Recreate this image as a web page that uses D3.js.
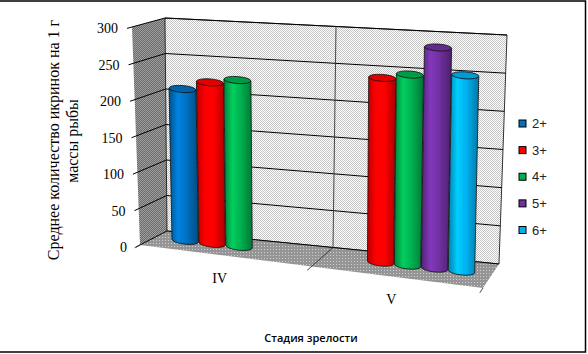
<!DOCTYPE html>
<html>
<head>
<meta charset="utf-8">
<script src="https://cdn.jsdelivr.net/npm/d3@7"></script>
<style>
  body { margin: 0; background: #fff; }
  svg { display: block; }
</style>
</head>
<body>
<div id="chart"></div>
<script>
// chart values
var categories = ["IV", "V"];
var series = ["2+", "3+", "4+", "5+", "6+"];
var valuesIV = [210, 222, 228, null, null];
var valuesV = [null, 245, 252, 290, 256];
var yTicks = [0, 50, 100, 150, 200, 250, 300];

var colors = ["#0070C0", "#FF0000", "#00B050", "#7030A0", "#00B0F0"];

var svgWidth = 588;
var svgHeight = 354;

var svg = d3.select("#chart")
  .append("svg")
  .attr("width", svgWidth)
  .attr("height", svgHeight);

// corners of the 3d box on screen (back / front, value 0 / value max)
var box = {
  back:  { b0: [167, 231], b1: [499, 264], t0: [165, 18], t1: [507, 35] },
  front: { b0: [140, 245], b1: [483, 288], t0: [132, 27], t1: [485, 54] }
};

function lerp(a, b, t) { return [a[0] + (b[0] - a[0]) * t, a[1] + (b[1] - a[1]) * t]; }

function plane(p, u, t) {
  var bottom = lerp(p.b0, p.b1, u);
  var top = lerp(p.t0, p.t1, u);
  return lerp(bottom, top, t);
}

// u: along category axis 0..1, t: value 0..1, w: depth 0 (back) .. 1 (front)
function proj(u, t, w) {
  return lerp(plane(box.back, u, t), plane(box.front, u, t), w);
}

var xScale = d3.scaleBand().domain(categories).range([0, 1]);
var sScale = d3.scaleBand().domain(series).range([0, xScale.bandwidth()]).paddingOuter(0.625);
var yScale = d3.scaleLinear().domain([0, 300]).range([0, 1]);

var line = d3.line();

// patterns to imitate the dithered fills
var defs = svg.append("defs");

function checker(id, c1, c2) {
  var p = defs.append("pattern").attr("id", id)
    .attr("patternUnits", "userSpaceOnUse").attr("width", 2).attr("height", 2);
  p.append("rect").attr("width", 2).attr("height", 2).attr("fill", c1);
  p.append("rect").attr("width", 1).attr("height", 1).attr("fill", c2);
  p.append("rect").attr("x", 1).attr("y", 1).attr("width", 1).attr("height", 1).attr("fill", c2);
}
checker("wallBack", "#ffffff", "#c4c4c4");
checker("wallSide", "#6a6a6a", "#a0a0a0");

var fp = defs.append("pattern").attr("id", "floor")
  .attr("patternUnits", "userSpaceOnUse").attr("width", 3).attr("height", 3);
fp.append("rect").attr("width", 3).attr("height", 3).attr("fill", "#959595");
fp.append("rect").attr("width", 1).attr("height", 1).attr("fill", "#d0d0d0");

colors.forEach(function(c, i) {
  var g = defs.append("linearGradient").attr("id", "cyl" + i)
    .attr("x1", 0).attr("x2", 1).attr("y1", 0).attr("y2", 0);
  g.append("stop").attr("offset", "0%").attr("stop-color", d3.color(c).darker(0.9));
  g.append("stop").attr("offset", "30%").attr("stop-color", d3.color(c).brighter(0.45));
  g.append("stop").attr("offset", "60%").attr("stop-color", c);
  g.append("stop").attr("offset", "100%").attr("stop-color", d3.color(c).darker(1.1));
});

// walls and floor
svg.append("path")
  .attr("d", line([proj(0, 0, 0), proj(0, 1, 0), proj(0, 1, 1), proj(0, 0, 1)]) + "Z")
  .attr("fill", "url(#wallSide)");

svg.append("path")
  .attr("d", line([proj(0, 0, 0), proj(0, 1, 0), proj(1, 1, 0), proj(1, 0, 0)]) + "Z")
  .attr("fill", "url(#wallBack)")
  .attr("stroke", "#000")
  .attr("stroke-width", 0.8);

svg.append("path")
  .attr("d", line([proj(0, 0, 0), proj(1, 0, 0), proj(1, 0, 1), proj(0, 0, 1)]) + "Z")
  .attr("fill", "url(#floor)");

// value gridlines on side wall and back wall, with ticks
var grid = svg.append("g").attr("stroke", "#000").attr("stroke-width", 1).attr("fill", "none");
yTicks.forEach(function(v) {
  var t = yScale(v);
  grid.append("path").attr("d", line([proj(0, t, 1.15), proj(0, t, 0), proj(1, t, 0)]));
});

// category divider and ticks
var divider = svg.append("g").attr("stroke", "#333").attr("stroke-width", 0.9).attr("fill", "none");
divider.append("path").attr("d", line([proj(0.5, 1, 0), proj(0.5, 0, 0), proj(0.5, 0, 1.2)]));
divider.append("path").attr("d", line([proj(0, 0, 1), proj(0, 0, 1.2)]));
divider.append("path").attr("d", line([proj(1, 0, 1), proj(1, 0, 1.2)]));

// y tick labels
svg.append("g").selectAll("text")
  .data(yTicks)
  .enter().append("text")
  .attr("x", function(d) { return proj(0, yScale(d), 1.15)[0] - 9; })
  .attr("y", function(d) { return proj(0, yScale(d), 1.15)[1]; })
  .attr("dy", "0.35em")
  .attr("text-anchor", "end")
  .attr("font-family", "Liberation Serif, serif")
  .attr("font-size", 14)
  .text(function(d) { return d; });

// cylinders
var depth = 0.45;
var ry = 3.5;
var bars = [];
categories.forEach(function(cat, ci) {
  var vals = ci === 0 ? valuesIV : valuesV;
  series.forEach(function(s, si) {
    if (vals[si] == null) return;
    bars.push({ cat: cat, s: s, si: si, value: vals[si] });
  });
});

var barG = svg.append("g");
bars.forEach(function(d) {
  var uc = xScale(d.cat) + sScale(d.s) + sScale.bandwidth() / 2;
  var r = sScale.bandwidth() / 2 * 0.98;
  var t = yScale(d.value);
  var lb = proj(uc - r, 0, depth), rb = proj(uc + r, 0, depth);
  var lt = proj(uc - r, t, depth), rt = proj(uc + r, t, depth);
  var rx = (rb[0] - lb[0]) / 2;
  var rxTop = (rt[0] - lt[0]) / 2;
  var angB = Math.atan2(rb[1] - lb[1], rb[0] - lb[0]) * 180 / Math.PI;
  var angT = Math.atan2(rt[1] - lt[1], rt[0] - lt[0]) * 180 / Math.PI;
  var ct = proj(uc, t, depth);

  barG.append("path")
    .attr("d", "M" + lt + "L" + lb + "A" + rx + "," + ry + " " + angB + " 0 0 " + rb + "L" + rt + "Z")
    .attr("fill", "url(#cyl" + d.si + ")")
    .attr("stroke", "#111")
    .attr("stroke-width", 0.8);

  barG.append("ellipse")
    .attr("cx", ct[0]).attr("cy", ct[1])
    .attr("rx", rxTop).attr("ry", ry)
    .attr("transform", "rotate(" + angT + "," + ct[0] + "," + ct[1] + ")")
    .attr("fill", d3.color(colors[d.si]).darker(0.35))
    .attr("stroke", "#111")
    .attr("stroke-width", 0.8);
});

// category labels
svg.append("g").selectAll("text")
  .data(categories)
  .enter().append("text")
  .attr("x", function(d) { return proj(xScale(d) + xScale.bandwidth() / 2, 0, 1)[0] - 6; })
  .attr("y", function(d) { return proj(xScale(d) + xScale.bandwidth() / 2, 0, 1)[1] + 27; })
  .attr("text-anchor", "middle")
  .attr("font-family", "Liberation Serif, serif")
  .attr("font-size", 14)
  .text(function(d) { return d; });

// axis titles
svg.append("text")
  .attr("transform", "translate(59,140) rotate(-90)")
  .attr("text-anchor", "middle")
  .attr("font-family", "Liberation Serif, serif")
  .attr("font-size", 16)
  .text("Среднее количество икринок на 1 г");

svg.append("text")
  .attr("transform", "translate(78,141) rotate(-90)")
  .attr("text-anchor", "middle")
  .attr("font-family", "Liberation Serif, serif")
  .attr("font-size", 16)
  .text("массы рыбы");

svg.append("text")
  .attr("x", 311)
  .attr("y", 342)
  .attr("text-anchor", "middle")
  .attr("font-family", "Open Sans, sans-serif")
  .attr("font-size", 11)
  .attr("font-weight", 600)
  .text("Стадия зрелости");

// legend
var legendY = d3.scalePoint().domain(series).range([123.5, 230]);
var legend = svg.append("g").selectAll("g")
  .data(series)
  .enter().append("g")
  .attr("transform", function(d) { return "translate(519," + legendY(d) + ")"; });

legend.append("rect")
  .attr("x", 0).attr("y", -3.5)
  .attr("width", 7).attr("height", 7)
  .attr("fill", function(d, i) { return colors[i]; })
  .attr("stroke", "#000")
  .attr("stroke-width", 1);

legend.append("text")
  .attr("x", 13)
  .attr("y", 0)
  .attr("dy", "0.36em")
  .attr("font-family", "Liberation Sans, sans-serif")
  .attr("font-size", 13)
  .attr("fill", "#222")
  .text(function(d) { return d; });

// outer frame (top, right and bottom edges are visible)
svg.append("path")
  .attr("d", "M0,1H585.5V352H0")
  .attr("fill", "none")
  .attr("stroke", "#000")
  .attr("stroke-width", 1.5);
</script>
</body>
</html>
